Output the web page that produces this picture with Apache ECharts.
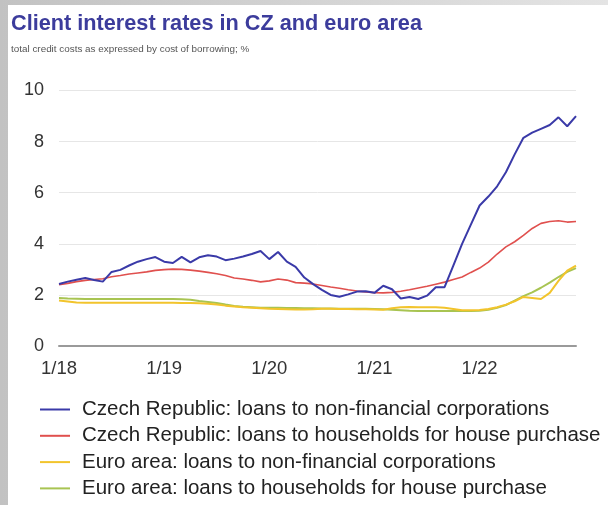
<!DOCTYPE html>
<html>
<head>
<meta charset="utf-8">
<script src="https://cdn.jsdelivr.net/npm/echarts@6/dist/echarts.min.js"></script>
<style>
  html, body { margin: 0; padding: 0; background: #fff; }
  #chart { width: 608px; height: 505px; }
</style>
</head>
<body>
<div id="chart"></div>
<script>
// Monthly observations, January 2018 – December 2022
var months = [
  "1/18","2/18","3/18","4/18","5/18","6/18","7/18","8/18","9/18","10/18","11/18","12/18",
  "1/19","2/19","3/19","4/19","5/19","6/19","7/19","8/19","9/19","10/19","11/19","12/19",
  "1/20","2/20","3/20","4/20","5/20","6/20","7/20","8/20","9/20","10/20","11/20","12/20",
  "1/21","2/21","3/21","4/21","5/21","6/21","7/21","8/21","9/21","10/21","11/21","12/21",
  "1/22","2/22","3/22","4/22","5/22","6/22","7/22","8/22","9/22","10/22","11/22","12/22"
];

var czCorporations = [
  2.43,2.52,2.59,2.66,2.58,2.52,2.90,2.98,3.15,3.30,
  3.40,3.48,3.30,3.25,3.49,3.27,3.47,3.55,3.50,3.36,
  3.42,3.50,3.60,3.72,3.40,3.68,3.30,3.10,2.68,2.42,
  2.20,2.00,1.93,2.02,2.13,2.14,2.08,2.36,2.22,1.86,
  1.92,1.84,1.97,2.30,2.30,3.15,4.00,4.75,5.50,5.85,
  6.25,6.80,7.50,8.15,8.35,8.50,8.65,8.95,8.60,9.00
];

var czHouseholds = [
  2.40,2.45,2.52,2.57,2.60,2.63,2.71,2.76,2.82,2.86,
  2.90,2.96,2.99,3.01,3.00,2.97,2.93,2.88,2.83,2.76,
  2.66,2.62,2.57,2.51,2.55,2.62,2.58,2.48,2.46,2.43,
  2.37,2.31,2.26,2.20,2.15,2.12,2.09,2.08,2.10,2.14,
  2.20,2.27,2.34,2.42,2.50,2.60,2.70,2.88,3.05,3.28,
  3.60,3.88,4.08,4.33,4.60,4.80,4.87,4.90,4.85,4.87
];

var euCorporations = [
  1.78,1.74,1.70,1.69,1.69,1.69,1.69,1.69,1.69,1.69,
  1.69,1.69,1.69,1.69,1.68,1.68,1.67,1.65,1.62,1.58,
  1.55,1.52,1.50,1.48,1.46,1.45,1.44,1.43,1.43,1.44,
  1.46,1.46,1.45,1.45,1.44,1.44,1.43,1.42,1.48,1.52,
  1.53,1.52,1.52,1.52,1.50,1.45,1.40,1.40,1.41,1.45,
  1.52,1.62,1.75,1.92,1.88,1.84,2.08,2.55,2.95,3.15
];

var euHouseholds = [
  1.88,1.86,1.85,1.84,1.84,1.84,1.84,1.84,1.84,1.84,
  1.84,1.84,1.84,1.84,1.83,1.81,1.76,1.72,1.68,1.62,
  1.57,1.54,1.52,1.50,1.50,1.50,1.49,1.49,1.48,1.48,
  1.47,1.47,1.46,1.46,1.46,1.46,1.45,1.44,1.42,1.40,
  1.38,1.37,1.37,1.37,1.37,1.37,1.37,1.37,1.38,1.42,
  1.50,1.60,1.78,1.95,2.10,2.28,2.48,2.70,2.90,3.05
];

var yTicks = [0, 2, 4, 6, 8, 10];

var seriesNames = [
  "Czech Republic: loans to non-financial corporations",
  "Czech Republic: loans to households for house purchase",
  "Euro area: loans to non-financial corporations",
  "Euro area: loans to households for house purchase"
];
var seriesColors = ["#3a3aa8", "#e0504e", "#f2c42c", "#a8c452"];

var chart = echarts.init(document.getElementById('chart'), null, { renderer: 'canvas' });

function lineSeries(idx, data, width, z) {
  return {
    name: seriesNames[idx],
    type: 'line',
    data: data,
    symbol: 'none',
    smooth: false,
    z: z,
    lineStyle: { color: seriesColors[idx], width: width },
    itemStyle: { color: seriesColors[idx] }
  };
}

var FONT = '"Liberation Sans", Arial, sans-serif';

chart.setOption({
  animation: false,
  backgroundColor: '#ffffff',
  textStyle: { fontFamily: FONT },
  graphic: [
    // grey frame along the top and left edges
    { type: 'rect', z: -10, silent: true, shape: { x: 0, y: 0, width: 608, height: 505 },
      style: { fill: new echarts.graphic.LinearGradient(0, 0, 1, 0, [
        { offset: 0, color: '#c2c2c2' }, { offset: 1, color: '#e4e4e4' }]) } },
    { type: 'rect', z: -9, silent: true, shape: { x: 8, y: 5, width: 600, height: 500 },
      style: { fill: '#ffffff' } },
    { type: 'text', left: 11, top: 13, style: {
        text: 'Client interest rates in CZ and euro area',
        font: 'bold 21.7px ' + FONT, fill: '#3c3c9c' } },
    { type: 'text', left: 11, top: 44, style: {
        text: 'total credit costs as expressed by cost of borrowing; %',
        font: '9.9px ' + FONT, fill: '#555555' } }
  ],
  grid: { left: 59, right: 32, top: 90.5, bottom: 159, containLabel: false },
  legend: {
    orient: 'vertical',
    left: 40,
    top: 399,
    height: 110,
    padding: 0,
    itemWidth: 30,
    itemHeight: 2,
    itemGap: 5.3,
    icon: 'rect',
    selectedMode: false,
    textStyle: { fontSize: 20.5, color: '#222222', lineHeight: 20, padding: [0, 0, 0, 7], fontFamily: FONT },
    data: seriesNames
  },
  xAxis: {
    type: 'category',
    data: months,
    boundaryGap: false,
    axisLine: { lineStyle: { color: '#9a9a9a', width: 2 } },
    axisTick: { show: false },
    axisLabel: { interval: 11, color: '#333333', fontSize: 18.5, margin: 13, fontFamily: FONT },
    splitLine: { show: false }
  },
  yAxis: {
    type: 'value',
    min: yTicks[0],
    max: yTicks[yTicks.length - 1],
    interval: 2,
    axisLine: { show: false },
    axisTick: { show: false },
    axisLabel: { color: '#333333', fontSize: 18, margin: 15, fontFamily: FONT },
    splitLine: { lineStyle: { color: '#e6e6e6', width: 1 } }
  },
  series: [
    lineSeries(3, euHouseholds, 2, 2),
    lineSeries(2, euCorporations, 2, 3),
    lineSeries(1, czHouseholds, 1.6, 4),
    lineSeries(0, czCorporations, 2, 5)
  ]
});
</script>
</body>
</html>
